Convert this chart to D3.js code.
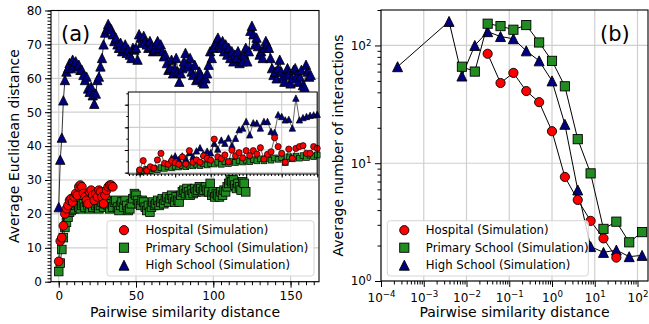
<!DOCTYPE html>
<html>
<head>
<meta charset="utf-8">
<script src="https://cdn.jsdelivr.net/npm/d3@7"></script>
<style>
  body { margin: 0; background: #fff; }
  svg { display: block; font-family: "DejaVu Sans", sans-serif; }
</style>
</head>
<body>
<svg id="chart" width="649" height="324"></svg>
<script>
// ---------- Panel (a): average Euclidean distance vs pairwise similarity distance ----------
// Values are listed for pairwise distance 0, 1, 2, ...
const hospitalA = [6, 12, 13, 16.5, 20, 21.5, 22.5, 24, 24.5, 23.5, 25, 26, 25.5, 28, 28.5, 28, 26,
  25, 24, 23, 26.5, 27, 25.5, 24, 26, 25, 27, 26.5, 25, 23, 25.5, 27, 28, 28.5, 28.5, 28];

const primaryA = [3, 5.5, 9.5, 13, 16, 17.5, 19, 20.5, 21, 22, 21.5, 22.5, 23, 22, 21.5, 22.5, 23,
  22, 23.5, 22.5, 21.5, 23, 22, 24, 22.5, 23, 21.5, 22.5, 23.5, 22, 23, 24, 22.5, 21.5, 23, 22,
  23.5, 24, 22, 21, 22.5, 23.5, 22, 24, 22.5, 21, 21.5, 23, 24.5, 26, 25.5, 24, 23, 22.5, 24,
  23.5, 22, 21, 22.5, 20.5, 22, 23.5, 22.5, 23, 24, 22.5, 23.5, 24.5, 23, 24, 25, 23.5, 24.5,
  25.5, 24.5, 23.5, 25, 24, 23.5, 25.5, 26.5, 27, 26, 27.5, 26.5, 25.5, 27, 26, 27.5, 26.5, 27,
  28, 27.5, 26.5, 27, 28, 27, 26.5, 29, 25.5, 26.5, 25, 26, 25.5, 25, 26.5, 25.5, 27, 26.5, 28,
  29, 30, 29.5, 30, 28.5, 27.5, 29, 28, 27, 29.5, 29, 26.5];

const highA = [22, 36, 42.5, 53.5, 59.5, 62, 63, 64.5, 63, 65.5, 64, 65, 63.5, 64, 62.5, 62.5, 61,
  59.5, 60.5, 57, 56, 57.5, 55, 52.5, 55.5, 59.5, 60.5, 63.5, 66, 70, 73.5, 74.5, 76, 75, 74.5,
  73, 71, 72, 70, 69, 70.5, 68, 69, 70, 67.5, 68.5, 67, 66, 69, 68.5, 69, 65.5, 73, 72, 70.5,
  72.5, 71, 70, 69, 71, 69.5, 68, 68.5, 70, 71, 69, 70, 68, 66.5, 67, 64.5, 62.5, 63, 65.5,
  61.5, 63, 66, 62, 59, 61.5, 63, 65, 67.5, 63.5, 64.5, 66, 62, 61, 64, 59.5, 60, 62, 61, 59,
  58.5, 60, 61.5, 64, 68, 66, 69, 70, 71, 72, 70, 69, 71, 68, 70, 67, 69, 66, 68, 65, 67, 66,
  68, 64.5, 66, 65, 67, 69, 65, 68, 74, 75.5, 73, 70, 72, 69.5, 67, 68, 66, 69, 71, 70, 69, 66,
  63, 61, 62, 60, 63, 65.5, 62, 60.5, 59, 61, 63, 61.5, 58.5, 60, 62.5, 63, 61, 59, 60.5, 62.5,
  58, 57.5, 64, 62, 60.5, 61];

// Inset series, listed for inset distance 0, 1, 2, ... (high school starts at 9)
const hospitalInset = [1.2, 5.3, 0.9, 2.6, 2.0, 5.6, 8.5, 4.1, 3.7, 5.2, 4.4, 3.7, 6.9, 3.8, 9.7,
  4.6, 5.6, 4.6, 7.4, 6.3, 5.5, 14.8, 7.0, 6.2, 7.8, 4.8, 9.9, 7.4, 8.8, 6.5, 9.7, 7.5, 9.7, 8.2,
  11.0, 6.0, 8.1, 9.2, 15.4, 11.5, 8.5, 4.6, 10.4, 6.3, 10.7, 11.5, 11.9, 8.5, 8.5, 11.5, 10.7];
const primaryInset = [0.3, 0.8, 1.4, 0.9, 1.8, 1.3, 2.2, 1.9, 2.7, 2.1, 2.8, 2.5, 3.2, 2.6, 3.3,
  3.0, 3.7, 3.1, 3.9, 3.4, 4.1, 3.8, 4.6, 3.7, 4.8, 4.0, 5.1, 4.5, 5.2, 4.7, 5.5, 4.8, 5.7, 5.2,
  6.1, 5.2, 6.3, 5.5, 6.5, 5.9, 6.6, 4.5, 7.0, 6.1, 7.3, 6.4, 7.5, 6.7, 7.7, 7.1, 7.8];
const highInsetStart = 9;
const highInset = [6.5, 7.4, 5.8, 7.4, 6.2, 8.9, 7.1, 9.6, 11.0, 8.3, 9.5, 8.8, 13.0, 10.4, 14.4,
  13.0, 15.3, 12.1, 15.2, 19.0, 19.7, 22.6, 16.7, 22.0, 21.9, 19.7, 22.6, 22.6, 18.2, 17.8, 25.6,
  24.8, 23.3, 23.5, 19.7, 32.9, 23.3, 24.3, 24.8, 25.3, 25.5, 25.8];

// ---------- Panel (b): average number of interactions vs pairwise similarity distance ----------
const hospitalBx = [0.03125, 0.0625, 0.125, 0.25, 0.5, 1, 2, 4, 8, 16, 32];
const hospitalBy = [85, 48, 58.5, 41, 33, 18.7, 7.65, 4.88, 3.24, 2.3, 1.58];
const primaryBx = [0.0078125, 0.015625, 0.03125, 0.0625, 0.125, 0.25, 0.5, 1, 2, 4, 8, 16, 32, 64, 128];
const primaryBy = [66, 60, 153, 146, 136, 149, 106, 74, 45, 16, 8.2, 2.77, 3.19, 2.13, 2.6];
const highBx = [0.000244140625, 0.00390625, 0.0078125, 0.015625, 0.03125, 0.0625, 0.125, 0.25,
  0.5, 1, 2, 4, 8, 16, 32, 64, 128];
const highBy = [66, 160, 55, 100, 131, 119, 114, 90, 74, 50, 21.4, 5.93, 1.96, 1.75, 1.83, 1.61, 1.65];

// Tick values and labels
const aXTicks = [0, 50, 100, 150];
const aYTicks = [0, 10, 20, 30, 40, 50, 60, 70, 80];
const bXExponents = [-4, -3, -2, -1, 0, 1, 2];
const bYExponents = [0, 1, 2];
const insetXTicks = [0, 10, 20, 30, 40, 50];
const insetYTicks = [0, 10, 20, 30];

const seriesNames = ["Hospital (Simulation)", "Primary School (Simulation)", "High School (Simulation)"];
const seriesColors = ["#ff0000", "#228b22", "#000080"];
const seriesShapes = ["circle", "square", "triangle"];

// ---------- helpers ----------
const svg = d3.select("#chart");
const GRID = "#cfcfcf";

function drawMarker(g, shape, x, y, size, fill, sw) {
  const h = size / 2;
  if (shape === "circle") {
    g.append("circle").attr("cx", x).attr("cy", y).attr("r", h)
      .attr("fill", fill).attr("stroke", "#000").attr("stroke-width", sw);
  } else if (shape === "square") {
    g.append("rect").attr("x", x - h).attr("y", y - h).attr("width", size).attr("height", size)
      .attr("fill", fill).attr("stroke", "#000").attr("stroke-width", sw);
  } else {
    const p = d3.path();
    p.moveTo(x, y - h); p.lineTo(x + h, y + h); p.lineTo(x - h, y + h); p.closePath();
    g.append("path").attr("d", p.toString())
      .attr("fill", fill).attr("stroke", "#000").attr("stroke-width", sw);
  }
}

function drawSeries(g, pts, x, y, shape, color, size, lw, sw) {
  const line = d3.line().x(d => x(d[0])).y(d => y(d[1]));
  g.append("path").attr("d", line(pts)).attr("fill", "none")
    .attr("stroke", "#000").attr("stroke-width", lw);
  const mg = g.append("g");
  pts.forEach(d => drawMarker(mg, shape, x(d[0]), y(d[1]), size, color, sw));
}

function styleAxis(g, fontSize) {
  g.attr("font-family", "DejaVu Sans, sans-serif").attr("font-size", fontSize);
  g.select(".domain").remove();
  g.selectAll(".tick line").attr("stroke", "#000").attr("stroke-width", 1);
  g.selectAll(".tick text").attr("fill", "#000");
  return g;
}

function superscriptLabels(g, exps) {
  g.selectAll(".tick text").each(function (d, i) {
    const t = d3.select(this);
    t.text("");
    t.append("tspan").text("10");
    t.append("tspan").attr("dy", "-0.48em").attr("font-size", "0.72em")
      .text(String(exps[i]).replace("-", "\u2212"));
  });
}

function drawLegend(x0, y0, w, h) {
  const g = svg.append("g");
  g.append("rect").attr("x", x0).attr("y", y0).attr("width", w).attr("height", h)
    .attr("rx", 3).attr("fill", "#fff").attr("fill-opacity", 0.8)
    .attr("stroke", "#d6d6d6").attr("stroke-width", 1);
  const rows = [y0 + 9.5, y0 + 27, y0 + 44.5];
  seriesNames.forEach((name, i) => {
    drawMarker(g, seriesShapes[i], x0 + 17, rows[i], seriesShapes[i] === "triangle" ? 10 : 9.2,
      seriesColors[i], 0.9);
    g.append("text").attr("x", x0 + 38.5).attr("y", rows[i]).attr("dy", "0.36em")
      .attr("font-size", 11.7).attr("fill", "#000").text(name);
  });
}

// ================= Panel (a) =================
const A = { left: 51, right: 319, top: 10.5, bottom: 281.7 };
const xA = d3.scaleLinear().domain([-5, 168.4]).range([A.left, A.right]);
const yA = d3.scaleLinear().domain([0, 80]).range([A.bottom, A.top]);

const gA = svg.append("g");
aXTicks.forEach(v => gA.append("line").attr("x1", xA(v)).attr("x2", xA(v))
  .attr("y1", A.top).attr("y2", A.bottom).attr("stroke", GRID).attr("stroke-width", 1.2));
aYTicks.forEach(v => gA.append("line").attr("x1", A.left).attr("x2", A.right)
  .attr("y1", yA(v)).attr("y2", yA(v)).attr("stroke", GRID).attr("stroke-width", 1.2));

const plotA = gA.append("g");
drawSeries(plotA, highA.map((v, i) => [i, v]), xA, yA, "triangle", seriesColors[2], 9.4, 0.8, 0.8);
drawSeries(plotA, primaryA.map((v, i) => [i, v]), xA, yA, "square", seriesColors[1], 8.6, 0.8, 0.8);
drawSeries(plotA, hospitalA.map((v, i) => [i, v]), xA, yA, "circle", seriesColors[0], 8.8, 0.8, 0.8);

// axes (a)
styleAxis(svg.append("g").attr("transform", `translate(0,${A.bottom})`)
  .call(d3.axisBottom(xA).tickValues(d3.range(0, 166, 5)).tickSize(3.5).tickFormat("")), 12);
styleAxis(svg.append("g").attr("transform", `translate(0,${A.bottom})`)
  .call(d3.axisBottom(xA).tickValues(aXTicks).tickSize(6).tickPadding(4)), 12);
styleAxis(svg.append("g").attr("transform", `translate(${A.left},0)`)
  .call(d3.axisLeft(yA).tickValues(d3.range(0, 81, 1)).tickSize(3.5).tickFormat("")), 12);
styleAxis(svg.append("g").attr("transform", `translate(${A.left},0)`)
  .call(d3.axisLeft(yA).tickValues(aYTicks).tickSize(6).tickPadding(3)), 12);

svg.append("rect").attr("x", A.left).attr("y", A.top)
  .attr("width", A.right - A.left).attr("height", A.bottom - A.top)
  .attr("fill", "none").attr("stroke", "#000").attr("stroke-width", 1.1);

// inset
const I = { left: 128.3, right: 317.2, top: 92, bottom: 174 };
const xI = d3.scaleLinear().domain([-3.2, 50]).range([I.left, I.right]);
const yI = d3.scaleLinear().domain([-0.6, 35.6]).range([I.bottom, I.top]);
const gI = svg.append("g");
gI.append("rect").attr("x", I.left).attr("y", I.top).attr("width", I.right - I.left)
  .attr("height", I.bottom - I.top).attr("fill", "#fff");
insetXTicks.forEach(v => gI.append("line").attr("x1", xI(v)).attr("x2", xI(v))
  .attr("y1", I.top).attr("y2", I.bottom).attr("stroke", GRID).attr("stroke-width", 1.1));
insetYTicks.forEach(v => gI.append("line").attr("x1", I.left).attr("x2", I.right)
  .attr("y1", yI(v)).attr("y2", yI(v)).attr("stroke", GRID).attr("stroke-width", 1.1));
drawSeries(gI, highInset.map((v, i) => [i + highInsetStart, v]), xI, yI, "triangle", seriesColors[2], 6.4, 0.6, 0.7);
drawSeries(gI, primaryInset.map((v, i) => [i, v]), xI, yI, "square", seriesColors[1], 5.8, 0.6, 0.7);
drawSeries(gI, hospitalInset.map((v, i) => [i, v]), xI, yI, "circle", seriesColors[0], 6.2, 0.6, 0.7);

styleAxis(svg.append("g").attr("transform", `translate(0,${I.bottom})`)
  .call(d3.axisBottom(xI).tickValues(d3.range(-3, 51, 1)).tickSize(2).tickFormat("")), 10);
styleAxis(svg.append("g").attr("transform", `translate(0,${I.bottom})`)
  .call(d3.axisBottom(xI).tickValues(insetXTicks).tickSize(3.5).tickFormat("")), 10);
styleAxis(svg.append("g").attr("transform", `translate(${I.left},0)`)
  .call(d3.axisLeft(yI).tickValues(d3.range(0, 36, 5)).tickSize(2).tickFormat("")), 10);
styleAxis(svg.append("g").attr("transform", `translate(${I.left},0)`)
  .call(d3.axisLeft(yI).tickValues(insetYTicks).tickSize(3.5).tickFormat("")), 10);
svg.append("rect").attr("x", I.left).attr("y", I.top).attr("width", I.right - I.left)
  .attr("height", I.bottom - I.top).attr("fill", "none").attr("stroke", "#000").attr("stroke-width", 1);

drawLegend(107, 220.7, 207, 55.3);

svg.append("text").attr("x", 61).attr("y", 40.5).attr("font-size", 21).attr("fill", "#000").text("(a)");
svg.append("text").attr("x", (A.left + A.right) / 2).attr("y", 317).attr("text-anchor", "middle")
  .attr("font-size", 14).attr("fill", "#000").text("Pairwise similarity distance");
svg.append("text").attr("transform", `translate(18.5,${(A.top + A.bottom) / 2}) rotate(-90)`)
  .attr("text-anchor", "middle").attr("font-size", 14).attr("fill", "#000")
  .text("Average Euclidean distance");

// ================= Panel (b) =================
const B = { left: 381, right: 648, top: 10, bottom: 281 };
const xB = d3.scaleLog().domain([1e-4, 176]).range([B.left, B.right]);
const yB = d3.scaleLog().domain([1, 200]).range([B.bottom, B.top]);

const gB = svg.append("g");
bXExponents.forEach(e => gB.append("line").attr("x1", xB(Math.pow(10, e))).attr("x2", xB(Math.pow(10, e)))
  .attr("y1", B.top).attr("y2", B.bottom).attr("stroke", GRID).attr("stroke-width", 1.2));
bYExponents.forEach(e => gB.append("line").attr("x1", B.left).attr("x2", B.right)
  .attr("y1", yB(Math.pow(10, e))).attr("y2", yB(Math.pow(10, e))).attr("stroke", GRID).attr("stroke-width", 1.2));

const zip = (xs, ys) => xs.map((x, i) => [x, ys[i]]);
drawSeries(gB, zip(highBx, highBy), xB, yB, "triangle", seriesColors[2], 10, 1, 0.9);
drawSeries(gB, zip(primaryBx, primaryBy), xB, yB, "square", seriesColors[1], 9.2, 1, 0.9);
drawSeries(gB, zip(hospitalBx, hospitalBy), xB, yB, "circle", seriesColors[0], 9.2, 1, 0.9);

const minorX = [];
for (let e = -4; e <= 2; e++) for (let m = 2; m <= 9; m++) { const v = m * Math.pow(10, e); if (v <= 176) minorX.push(v); }
const minorY = [];
for (let e = 0; e <= 2; e++) for (let m = 2; m <= 9; m++) { const v = m * Math.pow(10, e); if (v <= 200) minorY.push(v); }

styleAxis(svg.append("g").attr("transform", `translate(0,${B.bottom})`)
  .call(d3.axisBottom(xB).tickValues(minorX).tickSize(3.5).tickFormat("")), 12);
const bx = styleAxis(svg.append("g").attr("transform", `translate(0,${B.bottom})`)
  .call(d3.axisBottom(xB).tickValues(bXExponents.map(e => Math.pow(10, e))).tickSize(6).tickPadding(6)), 12);
superscriptLabels(bx, bXExponents);
styleAxis(svg.append("g").attr("transform", `translate(${B.left},0)`)
  .call(d3.axisLeft(yB).tickValues(minorY).tickSize(3.5).tickFormat("")), 12);
const by = styleAxis(svg.append("g").attr("transform", `translate(${B.left},0)`)
  .call(d3.axisLeft(yB).tickValues(bYExponents.map(e => Math.pow(10, e))).tickSize(6).tickPadding(3.5)), 12);
superscriptLabels(by, bYExponents);

svg.append("rect").attr("x", B.left).attr("y", B.top)
  .attr("width", B.right - B.left).attr("height", B.bottom - B.top)
  .attr("fill", "none").attr("stroke", "#000").attr("stroke-width", 1.1);

drawLegend(387.3, 220.7, 201, 55.3);

svg.append("text").attr("x", 600).attr("y", 40.5).attr("font-size", 21).attr("fill", "#000").text("(b)");
svg.append("text").attr("x", (B.left + B.right) / 2).attr("y", 317).attr("text-anchor", "middle")
  .attr("font-size", 14).attr("fill", "#000").text("Pairwise similarity distance");
svg.append("text").attr("transform", `translate(343,${(B.top + B.bottom) / 2}) rotate(-90)`)
  .attr("text-anchor", "middle").attr("font-size", 14).attr("fill", "#000")
  .text("Average number of interactions");
</script>
</body>
</html>
